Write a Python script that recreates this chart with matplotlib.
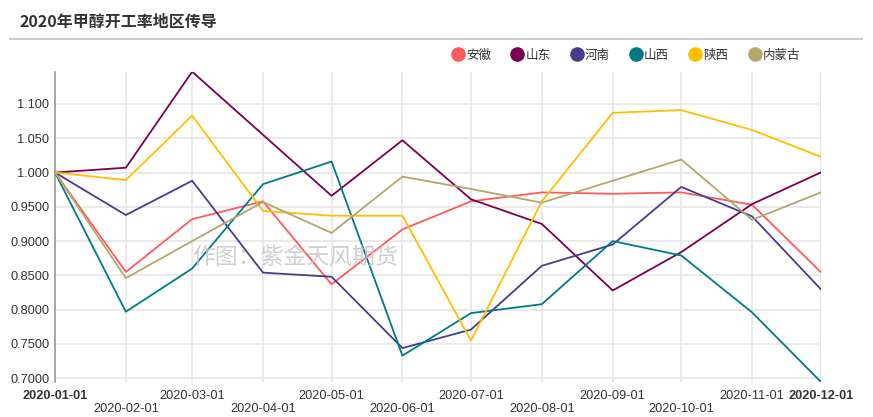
import numpy as np
import pandas as pd
import matplotlib
matplotlib.use('Agg')
import matplotlib.pyplot as plt
import matplotlib.dates as mdates
from matplotlib.lines import Line2D

plt.rcParams['font.family'] = ['Liberation Sans', 'Noto Sans CJK SC']

# monthly data
months = pd.date_range('2020-01-01', '2020-12-01', freq='MS')
anhui    = [1.000, 0.855, 0.932, 0.958, 0.837, 0.917, 0.958, 0.971, 0.969, 0.971, 0.953, 0.855]
shandong = [1.000, 1.007, 1.147, 1.055, 0.966, 1.047, 0.961, 0.925, 0.828, 0.884, 0.954, 1.000]
henan    = [1.000, 0.938, 0.988, 0.854, 0.848, 0.744, 0.771, 0.864, 0.895, 0.979, 0.936, 0.830]
shanxi   = [1.000, 0.797, 0.860, 0.983, 1.016, 0.733, 0.795, 0.808, 0.900, 0.879, 0.796, 0.695]
shaanxi  = [1.000, 0.989, 1.083, 0.944, 0.937, 0.937, 0.755, 0.958, 1.087, 1.091, 1.062, 1.023]
neimeng  = [1.000, 0.846, 0.900, 0.957, 0.912, 0.994, 0.976, 0.956, 0.988, 1.019, 0.931, 0.971]

names = ['安徽', '山东', '河南', '山西', '陕西', '内蒙古']
series = [anhui, shandong, henan, shanxi, shaanxi, neimeng]
colors = ['#ff5a5f', '#7b0051', '#483d8b', '#007a87', '#ffbf00', '#b4a76c']

ytick_vals = [0.70, 0.75, 0.80, 0.85, 0.90, 0.95, 1.00, 1.05, 1.10]
ytick_labels = ['0.7000', '0.7500', '0.8000', '0.8500', '0.9000', '0.9500', '1.000', '1.050', '1.100']

fig = plt.figure(figsize=(8.73, 4.17), dpi=100)
ax = fig.add_axes([55/873, 1 - 381.7/417, (820.7 - 55)/873, (381.7 - 71.7)/417])

for name, vals, c in zip(names, series, colors):
    ax.plot(months, vals, color=c, lw=1.3, label=name, zorder=3)

ax.set_xlim(months[0], months[-1])
ax.set_ylim(0.695, 1.147)
ax.set_yticks(ytick_vals)
ax.set_yticklabels(ytick_labels)

# alternating two-row date labels
xlabels = []
for i, d in enumerate(months):
    s = d.strftime('%Y-%m-%d')
    if i % 2 == 1 and i != len(months) - 1:
        s = '\n' + s
    xlabels.append(s)
ax.set_xticks(months)
ax.set_xticklabels(xlabels, linespacing=1.15)
tl = ax.get_xticklabels()
tl[0].set_fontweight('bold')
tl[-1].set_fontweight('bold')
tl[0].set_color('#000000')
tl[-1].set_color('#000000')

ax.tick_params(axis='both', length=0, labelsize=9.2, colors='#333333')
ax.tick_params(axis='x', pad=6)
ax.tick_params(axis='y', pad=4)
ax.grid(True, color='#e6e6e6', lw=1.2, zorder=0)
for s in ['top', 'right', 'bottom']:
    ax.spines[s].set_visible(False)
ax.spines['left'].set_color('#999999')
ax.spines['left'].set_linewidth(1.2)

# legend
handles = [Line2D([], [], marker='o', ls='none', markersize=9.5, color=c) for c in colors]
fig.legend(handles, names, loc='center', bbox_to_anchor=(0.717, 1 - 55.7/417), ncol=6,
           frameon=False, fontsize=9, handletextpad=0.15, columnspacing=1.6,
           handlelength=1.0, labelcolor='#333333')

# title and separator line
fig.text(20/873, 1 - 22/417, '2020年甲醇开工率地区传导', fontsize=11.5, fontweight='bold',
         color='#333333', va='center', ha='left', family=['Noto Sans CJK SC'])
fig.add_artist(Line2D([10/873, 862/873], [1 - 39/417, 1 - 39/417], color='#cccccc', lw=1.5))

# watermark
fig.text(295/873, 1 - 257/417, '作图：紫金天风期货', fontsize=16.5, color='#c4c4c4', alpha=0.8,
         ha='center', va='center', family=['Noto Sans CJK SC'], zorder=5)

fig.savefig('out.png', dpi=100)
